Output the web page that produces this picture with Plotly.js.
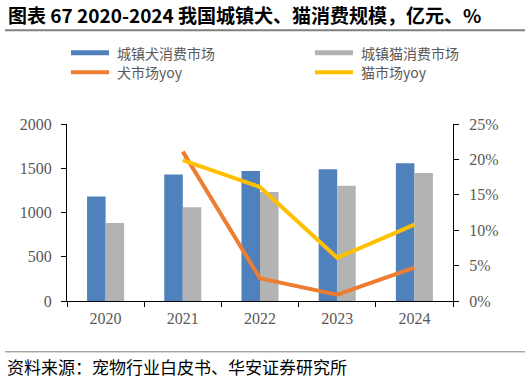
<!DOCTYPE html>
<html><head><meta charset="utf-8">
<script src="https://cdn.plot.ly/plotly-3.0.1.min.js"></script>
<style>html,body{margin:0;padding:0;background:#fff;}#chart{width:531px;height:382px;}</style>
</head><body><div id="chart"></div>
<script>
const years = ['2020', '2021', '2022', '2023', '2024'];
const dogMarket = [1180, 1430, 1470, 1488, 1557];
const catMarket = [880, 1060, 1231, 1301, 1445];
const yoyYears = ['2021', '2022', '2023', '2024'];
const dogYoy = [0.211, 0.032, 0.009, 0.047];
const catYoy = [0.199, 0.161, 0.061, 0.108];
const seriesNames = ['城镇犬消费市场', '城镇猫消费市场', '犬市场yoy', '猫市场yoy'];
const colors = ['#4f81bd', '#b3b3b3', '#ed7d31', '#ffc000'];
const titleText = '图表 67 2020-2024 我国城镇犬、猫消费规模，亿元、%';
const sourceText = '资料来源：宠物行业白皮书、华安证券研究所';

const cjk = '"Noto Sans CJK SC", "Noto Sans", sans-serif';
const serif = '"Liberation Serif", "DejaVu Serif", serif';

const traces = [
  {type: 'bar', x: years, y: dogMarket, name: seriesNames[0], marker: {color: colors[0]}, showlegend: false},
  {type: 'bar', x: years, y: catMarket, name: seriesNames[1], marker: {color: colors[1]}, showlegend: false},
  {type: 'scatter', mode: 'lines', x: yoyYears, y: dogYoy, yaxis: 'y2', name: seriesNames[2], line: {color: colors[2], width: 4}, showlegend: false},
  {type: 'scatter', mode: 'lines', x: yoyYears, y: catYoy, yaxis: 'y2', name: seriesNames[3], line: {color: colors[3], width: 4}, showlegend: false}
];

// manual legend
const legPos = [[71, 53], [315, 53], [71, 72.5], [315, 72.5]];
const shapes = [
  {type: 'line', xsizemode: 'pixel', ysizemode: 'pixel', xref: 'paper', yref: 'paper', xanchor: 0, yanchor: 1, x0: 5 - 67, x1: 525 - 67, y0: 124.3 - 30.5, y1: 124.3 - 30.5, line: {color: '#808080', width: 2}},
  {type: 'line', xsizemode: 'pixel', ysizemode: 'pixel', xref: 'paper', yref: 'paper', xanchor: 0, yanchor: 0, x0: 5 - 67, x1: 525 - 67, y0: 300.7 - 351.5, y1: 300.7 - 351.5, line: {color: '#808080', width: 1}}
];
const annotations = [
  {xref: 'paper', yref: 'paper', x: 0, y: 1, xshift: 6 - 67, yshift: 124.3 - 14.5, xanchor: 'left', yanchor: 'middle', text: '<b>' + titleText + '</b>', showarrow: false, font: {family: cjk, size: 19, color: '#000'}},
  {xref: 'paper', yref: 'paper', x: 0, y: 0, xshift: 5 - 67, yshift: 300.7 - 366, xanchor: 'left', yanchor: 'middle', text: sourceText, showarrow: false, font: {family: cjk, size: 17, color: '#000'}}
];
legPos.forEach((p, i) => {
  const isBar = i < 2;
  shapes.push({type: 'line', xsizemode: 'pixel', ysizemode: 'pixel', xref: 'paper', yref: 'paper', xanchor: 0, yanchor: 1,
    x0: p[0] - 67, x1: p[0] + 38 - 67, y0: 124.3 - p[1], y1: 124.3 - p[1],
    line: {color: colors[i], width: isBar ? 5 : 4}});
  annotations.push({xref: 'paper', yref: 'paper', x: 0, y: 1, xshift: p[0] + 44 - 67, yshift: 124.3 - p[1], xanchor: 'left', yanchor: 'middle',
    text: seriesNames[i], showarrow: false, font: {family: cjk, size: 14, color: '#595959'}});
});

const tickFont = {family: serif, size: 16, color: '#595959'};
const layout = {
  width: 531, height: 382,
  margin: {l: 67, r: 78, t: 124.3, b: 81.3, pad: 0},
  paper_bgcolor: '#fff', plot_bgcolor: '#fff',
  barmode: 'group', bargap: 0.52, bargroupgap: 0,
  showlegend: false,
  xaxis: {type: 'category', showline: true, linecolor: '#000', linewidth: 1, ticks: 'outside', tickson: 'boundaries', ticklen: 5, tickcolor: '#000',
    showgrid: false, tickfont: tickFont, ticklabelstandoff: 3, fixedrange: true},
  yaxis: {range: [0, 2000], tickvals: [0, 500, 1000, 1500, 2000], showline: true, linecolor: '#000', linewidth: 1, ticks: 'outside', ticklen: 5, tickcolor: '#000',
    showgrid: false, zeroline: false, tickfont: tickFont, ticklabelstandoff: 6},
  yaxis2: {overlaying: 'y', side: 'right', range: [0, 0.25], tickvals: [0, 0.05, 0.1, 0.15, 0.2, 0.25], tickformat: '.0%', showline: true, linecolor: '#000', linewidth: 1,
    ticks: 'outside', ticklen: 5, tickcolor: '#000', showgrid: false, zeroline: false, tickfont: tickFont, ticklabelstandoff: 7},
  shapes: shapes,
  annotations: annotations
};
Plotly.newPlot('chart', traces, layout, {displayModeBar: false, staticPlot: true});
</script></body></html>
